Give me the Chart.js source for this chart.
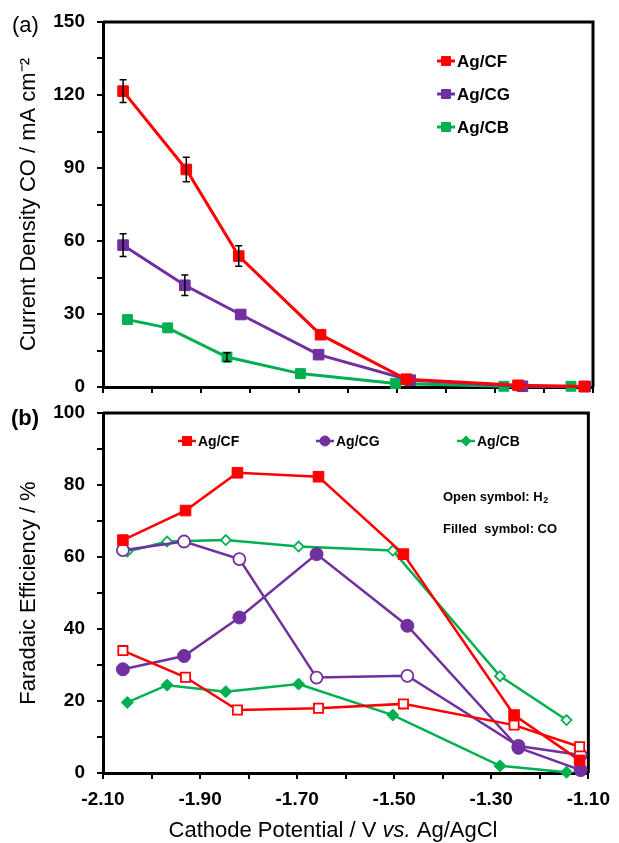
<!DOCTYPE html>
<html>
<head>
<meta charset="utf-8">
<script src="https://cdn.jsdelivr.net/npm/chart.js"></script>
<style>
  html, body { margin: 0; padding: 0; background: #fff; }
  #wrap { position: relative; width: 619px; height: 843px; }
  #chartA { position: absolute; left: 0; top: 0; width: 619px; height: 400px; }
  #chartB { position: absolute; left: 0; top: 400px; width: 619px; height: 443px; }
</style>
</head>
<body>
<div id="wrap">
  <canvas id="chartA" width="619" height="400"></canvas>
  <canvas id="chartB" width="619" height="443"></canvas>
</div>
<script>
// potentials (V vs. Ag/AgCl) at which each electrode was measured
const cfPot = [-2.059, -1.930, -1.823, -1.656, -1.481, -1.253, -1.118];
const cgPot = [-2.059, -1.933, -1.819, -1.660, -1.473, -1.244, -1.116];
const cbPot = [-2.050, -1.968, -1.847, -1.697, -1.503, -1.282, -1.145];

// (a) CO partial current density, mA cm-2, with error bars
const cfJco = [121.6, 89.4, 53.8, 21.5, 3.2, 0.7, 0.2];
const cgJco = [58.3, 41.8, 29.8, 13.3, 2.8, 0.3, 0.2];
const cbJco = [27.7, 24.3, 12.3, 5.5, 1.4, 0.3, 0.3];
const cfJerr = [4.7, 5.0, 4.2, 0, 0, 0, 0];
const cgJerr = [4.7, 4.2, 0, 0, 0, 0, 0];
const cbJerr = [0, 0, 1.8, 0, 0, 0, 0];

// (b) Faradaic efficiency, %
const cfFeCO = [64.7, 72.9, 83.4, 82.3, 60.8, 16.1, 3.5];
const cfFeH2 = [34.0, 26.6, 17.5, 18.0, 19.2, 13.3, 7.3];
const cgFeCO = [28.8, 32.5, 43.2, 60.8, 40.9, 7.0, 0.8];
const cgFeH2 = [61.9, 64.3, 59.4, 26.5, 27.0, 7.5, 5.0];
const cbFeCO = [19.6, 24.4, 22.6, 24.7, 16.1, 2.0, 0.2];
const cbFeH2 = [61.5, 64.3, 64.7, 62.9, 61.8, 26.9, 14.7];

const names = ['Ag/CF', 'Ag/CG', 'Ag/CB'];
const xTickLabels = [-2.10, -1.90, -1.70, -1.50, -1.30, -1.10];
const yTickLabelsA = [0, 30, 60, 90, 120, 150];
const yTickLabelsB = [0, 20, 40, 60, 80, 100];

const RED = '#FF0000', PURPLE = '#7030A0', GREEN = '#00B050';
const FONT = '"Liberation Sans", Arial, sans-serif';

Chart.defaults.font.family = FONT;
Chart.defaults.color = '#000';

function pts(xs, ys) {
    return xs.map((x, i) => ({ x: x, y: ys[i] }));
}

function series(label, xs, ys, color, style, open, radius, width) {
    return {
        label: label,
        data: pts(xs, ys),
        showLine: true,
        borderColor: color,
        borderWidth: width,
        pointStyle: style,
        pointRadius: radius,
        pointBackgroundColor: open ? '#fff' : color,
        pointBorderColor: color,
        pointBorderWidth: open ? 1.8 : 1,
        clip: false
    };
}

function xScale(showLabels, height) {
    return {
        type: 'linear', min: -2.1, max: -1.1,
        afterFit: s => { s.height = height; },
        ticks: {
            stepSize: 0.1, autoSkip: false, maxRotation: 0, display: showLabels,
            font: { size: 19, weight: 'bold' }, padding: 9,
            callback: v => xTickLabels.some(t => Math.abs(t - v) < 1e-6) ? v.toFixed(2) : ''
        },
        grid: { drawOnChartArea: false, color: '#000', lineWidth: 2, tickLength: 6 },
        border: { color: '#000', width: 3 }
    };
}

function yScale(max, step, labels, title) {
    return {
        min: 0, max: max,
        // fixed width so both panels line up; drop the label overhang padding
        afterFit: s => { s.width = 103; s.paddingTop = 0; s.paddingBottom = 0; },
        ticks: {
            stepSize: step, autoSkip: false,
            font: { size: 19, weight: 'bold' }, padding: 12,
            callback: v => labels.includes(v) ? String(v) : ''
        },
        grid: { drawOnChartArea: false, color: '#000', lineWidth: 2, tickLength: 6 },
        border: { color: '#000', width: 3 },
        title: { display: true, text: title, font: { size: 22 }, padding: { top: 16 } }
    };
}

function marker(ctx, style, x, y, r, fill, stroke, lw) {
    ctx.beginPath();
    if (style === 'rect') {
        ctx.rect(x - r, y - r, 2 * r, 2 * r);
    } else if (style === 'circle') {
        ctx.arc(x, y, r, 0, Math.PI * 2);
    } else {
        ctx.moveTo(x - r, y); ctx.lineTo(x, y - r); ctx.lineTo(x + r, y); ctx.lineTo(x, y + r);
        ctx.closePath();
    }
    ctx.fillStyle = fill;
    ctx.fill();
    ctx.lineWidth = lw;
    ctx.strokeStyle = stroke;
    ctx.stroke();
}

// top and right edges of the plot box
const frame = {
    id: 'frame',
    beforeDatasetsDraw(chart) {
        const { ctx, chartArea: a } = chart;
        ctx.save();
        ctx.strokeStyle = '#000';
        ctx.lineWidth = 3;
        ctx.beginPath();
        ctx.moveTo(a.left, a.top);
        ctx.lineTo(a.right, a.top);
        ctx.lineTo(a.right, a.bottom);
        ctx.stroke();
        ctx.restore();
    }
};

const errorBars = {
    id: 'errorBars',
    afterDatasetsDraw(chart) {
        const ctx = chart.ctx, y = chart.scales.y;
        chart.data.datasets.forEach((ds, di) => {
            if (!ds.errors) return;
            chart.getDatasetMeta(di).data.forEach((pt, i) => {
                const e = ds.errors[i];
                if (!e) return;
                const v = ds.data[i].y;
                const top = y.getPixelForValue(v + e), bot = y.getPixelForValue(v - e);
                ctx.save();
                ctx.strokeStyle = '#000';
                ctx.lineWidth = 1.5;
                ctx.beginPath();
                ctx.moveTo(pt.x, top); ctx.lineTo(pt.x, bot);
                ctx.moveTo(pt.x - 3.5, top); ctx.lineTo(pt.x + 3.5, top);
                ctx.moveTo(pt.x - 3.5, bot); ctx.lineTo(pt.x + 3.5, bot);
                ctx.stroke();
                ctx.restore();
            });
        });
    }
};

const legendA = {
    id: 'legendA',
    afterDraw(chart) {
        const ctx = chart.ctx;
        ctx.save();
        chart.data.datasets.forEach((ds, i) => {
            const y = 61 + i * 33;
            ctx.strokeStyle = ds.borderColor;
            ctx.lineWidth = 3;
            ctx.beginPath();
            ctx.moveTo(437, y); ctx.lineTo(455, y);
            ctx.stroke();
            marker(ctx, 'rect', 446, y, 4.5, ds.borderColor, ds.borderColor, 1);
            ctx.fillStyle = '#000';
            ctx.font = 'bold 17px ' + FONT;
            ctx.textBaseline = 'middle';
            ctx.fillText(ds.label, 457, y + 1);
        });
        ctx.font = '22px ' + FONT;
        ctx.textBaseline = 'middle';
        ctx.fillStyle = '#000';
        ctx.fillText('(a)', 12, 26);
        ctx.restore();
    }
};

const legendB = {
    id: 'legendB',
    afterDraw(chart) {
        const ctx = chart.ctx;
        const items = [
            { x: 178, color: RED, style: 'rect', r: 4.5 },
            { x: 316, color: PURPLE, style: 'circle', r: 5 },
            { x: 457, color: GREEN, style: 'diamond', r: 5 }
        ];
        ctx.save();
        items.forEach((it, i) => {
            const y = 41;
            ctx.strokeStyle = it.color;
            ctx.lineWidth = 2.5;
            ctx.beginPath();
            ctx.moveTo(it.x, y); ctx.lineTo(it.x + 18, y);
            ctx.stroke();
            marker(ctx, it.style, it.x + 9, y, it.r, it.color, it.color, 1);
            ctx.fillStyle = '#000';
            ctx.font = 'bold 14px ' + FONT;
            ctx.textBaseline = 'middle';
            ctx.fillText(names[i], it.x + 20, y + 1);
        });

        // symbol note
        ctx.font = 'bold 13px ' + FONT;
        ctx.fillText('Open symbol: H', 443, 97);
        const w = ctx.measureText('Open symbol: H').width;
        ctx.font = 'bold 9px ' + FONT;
        ctx.fillText('2', 443 + w + 0.5, 101);
        ctx.font = 'bold 13px ' + FONT;
        ctx.fillText('Filled  symbol: CO', 443, 129);

        // panel label
        ctx.font = 'bold 22px ' + FONT;
        ctx.fillText('(b)', 11, 19);

        // x axis title with italic "vs."
        const parts = [['Cathode Potential / V ', ''], ['vs.', 'italic '], [' Ag/AgCl', '']];
        let total = 0;
        parts.forEach(p => { ctx.font = p[1] + '22px ' + FONT; total += ctx.measureText(p[0]).width; });
        let x = 333 - total / 2;
        ctx.textBaseline = 'middle';
        parts.forEach(p => {
            ctx.font = p[1] + '22px ' + FONT;
            ctx.fillText(p[0], x, 431);
            x += ctx.measureText(p[0]).width;
        });
        ctx.restore();
    }
};

const topSets = [
    Object.assign(series(names[0], cfPot, cfJco, RED, 'rect', false, 7.5, 3), { errors: cfJerr }),
    Object.assign(series(names[1], cgPot, cgJco, PURPLE, 'rect', false, 7.5, 3), { errors: cgJerr }),
    Object.assign(series(names[2], cbPot, cbJco, GREEN, 'rect', false, 7, 3), { errors: cbJerr })
];

new Chart(document.getElementById('chartA'), {
    type: 'scatter',
    data: { datasets: topSets },
    options: {
        responsive: false,
        animation: false,
        layout: { padding: { top: 22, right: 26, left: 0, bottom: 0 } },
        plugins: { legend: { display: false }, tooltip: { enabled: false } },
        scales: {
            x: xScale(false, 13),
            y: yScale(150, 15, yTickLabelsA, 'Current Density CO / mA cm⁻²')
        }
    },
    plugins: [frame, errorBars, legendA]
});

const bottomSets = [
    series(names[0] + ' CO', cfPot, cfFeCO, RED, 'rect', false, 7.5, 2.5),
    series(names[0] + ' H2', cfPot, cfFeH2, RED, 'rect', true, 6.5, 2.5),
    series(names[1] + ' CO', cgPot, cgFeCO, PURPLE, 'circle', false, 6.5, 2.5),
    series(names[1] + ' H2', cgPot, cgFeH2, PURPLE, 'circle', true, 6, 2.5),
    series(names[2] + ' CO', cbPot, cbFeCO, GREEN, 'rectRot', false, 6, 2.5),
    series(names[2] + ' H2', cbPot, cbFeH2, GREEN, 'rectRot', true, 5, 2.5)
];

new Chart(document.getElementById('chartB'), {
    type: 'scatter',
    data: { datasets: bottomSets },
    options: {
        responsive: false,
        animation: false,
        layout: { padding: { top: 13, right: 26, left: 0, bottom: 0 } },
        plugins: { legend: { display: false }, tooltip: { enabled: false } },
        scales: {
            x: xScale(true, 70),
            y: yScale(100, 10, yTickLabelsB, 'Faradaic Efficiency / %')
        }
    },
    plugins: [frame, legendB]
});
</script>
</body>
</html>
